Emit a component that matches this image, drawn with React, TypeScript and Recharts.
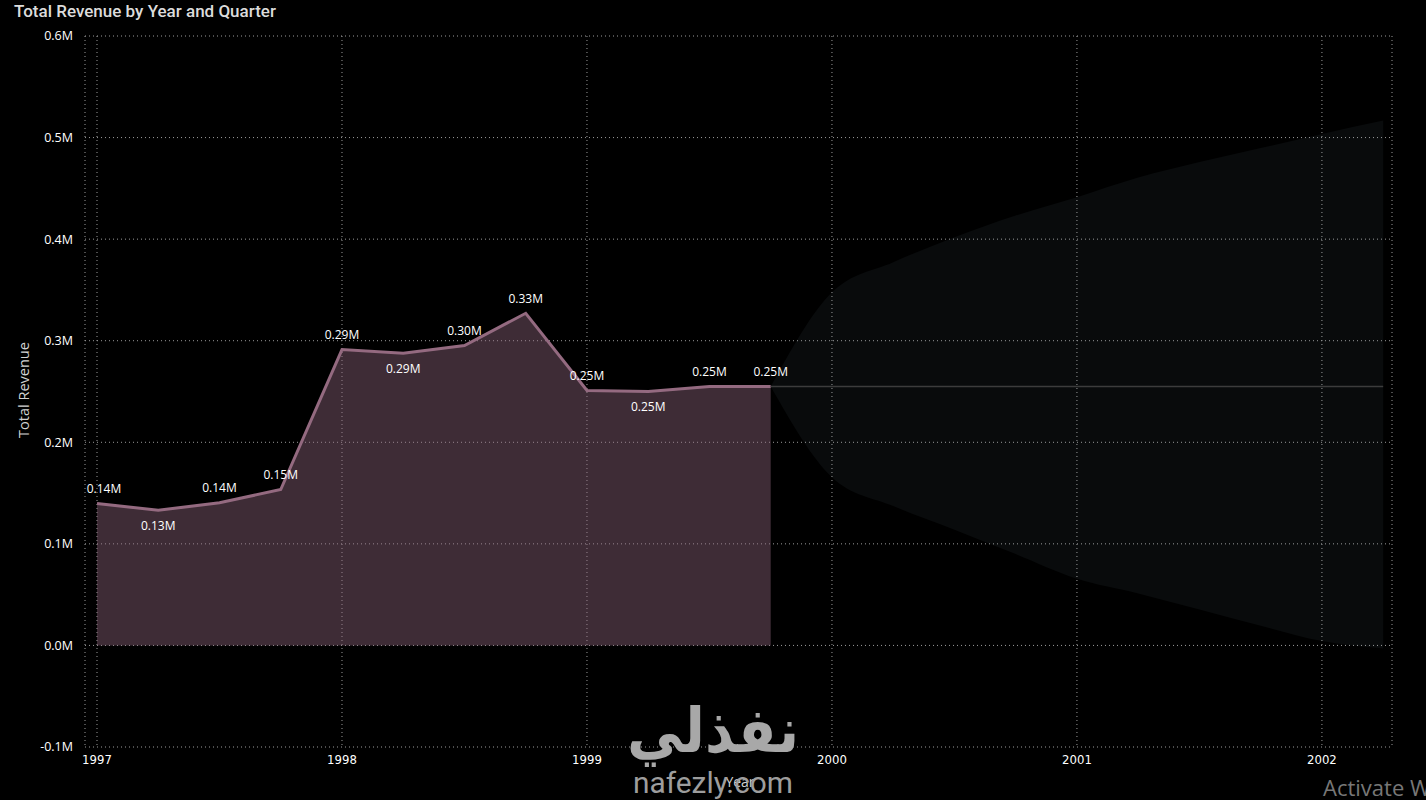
import {
  ComposedChart,
  Area,
  Line,
  XAxis,
  YAxis,
  CartesianGrid,
  LabelList
} from 'recharts'

// actual revenue, one point per quarter (x = year + quarter offset)
const actualPeriods = [1997, 1997.25, 1997.5, 1997.75, 1998, 1998.25, 1998.5, 1998.75, 1999, 1999.25, 1999.5, 1999.75]
const totalRevenue = [139800, 133000, 140500, 153500, 291300, 287700, 295300, 327000, 251000, 250000, 254900, 254900]

// forecast cone from the last actual quarter
const forecastPeriods = [1999.75, 2000, 2000.25, 2000.5, 2000.75, 2001, 2001.25, 2001.5, 2001.75, 2002, 2002.25]
const forecastValue = [254900, 254900, 254900, 254900, 254900, 254900, 254900, 254900, 254900, 254900, 254900]
const forecastUpper = [254900, 347700, 377300, 401900, 423200, 441300, 460600, 475900, 489700, 503600, 516700]
const forecastLower = [254900, 165700, 137300, 113900, 89900, 65600, 51200, 35400, 19400, 4300, -3000]

const yearTicks = [1997, 1998, 1999, 2000, 2001, 2002]
const revenueTicks = [-100000, 0, 100000, 200000, 300000, 400000, 500000, 600000]

const xs = Array.from(new Set([...actualPeriods, ...forecastPeriods])).sort((a, b) => a - b)
const data = xs.map((x) => {
  const ai = actualPeriods.indexOf(x)
  const fi = forecastPeriods.indexOf(x)
  return {
    x,
    revenue: ai >= 0 ? totalRevenue[ai] : null,
    forecast: fi >= 0 ? forecastValue[fi] : null,
    band: fi >= 0 ? [forecastLower[fi], forecastUpper[fi]] : null
  }
})

// labels go under the line at local dips, like the original
const labelBelow = totalRevenue.map((v, i) => {
  const prev = i > 0 ? totalRevenue[i - 1] : Infinity
  const next = i < totalRevenue.length - 1 ? totalRevenue[i + 1] : Infinity
  return v < prev && v < next
})

const formatTick = (v: number) => `${(v / 1e6).toFixed(1)}M`
const formatLabel = (v: number) => `${(v / 1e6).toFixed(2)}M`

const PLOT_LEFT = 85

const RevenueLabel = (props: any) => {
  const { x, y, value, index } = props
  if (value == null || x == null || y == null) return null
  const below = labelBelow[index]
  const cx = Math.max(x, PLOT_LEFT + 19)
  return (
    <text
      x={cx}
      y={below ? y + 15 : y - 15}
      textAnchor="middle"
      dominantBaseline="central"
      fill="#ffffff"
      fontSize={12}
      fontFamily="'Open Sans', 'Noto Sans', sans-serif"
    >
      {formatLabel(value)}
    </text>
  )
}

export default function App() {
  return (
    <div style={{ position: 'absolute', left: 0, top: 0, width: 1426, height: 800, background: '#000', overflow: 'hidden' }}>
      <ComposedChart
        width={1426}
        height={800}
        data={data}
        margin={{ top: 36, right: 34, bottom: 0, left: 0 }}
      >
        <CartesianGrid stroke="#9a9a9a" strokeDasharray="1 3" vertical horizontal />
        <XAxis
          dataKey="x"
          type="number"
          domain={[1996.951, 2002.286]}
          ticks={yearTicks}
          allowDataOverflow
          height={53}
          axisLine={false}
          tickLine={false}
          tickFormatter={(v) => String(v)}
          tick={{ fill: '#ffffff', fontSize: 13, fontFamily: "'Liberation Sans Narrow', 'DejaVu Sans Condensed', Roboto, sans-serif" }}
        />
        <YAxis
          type="number"
          domain={[-100000, 600000]}
          ticks={revenueTicks}
          allowDataOverflow
          width={85}
          axisLine={false}
          tickLine={false}
          tickMargin={6}
          tickFormatter={formatTick}
          tick={{ fill: '#ffffff', fontSize: 12.5, fontFamily: "'Open Sans', 'Noto Sans', sans-serif" }}
        />
        <Area
          dataKey="band"
          type="monotone"
          stroke="none"
          fill="#8ea0b0"
          fillOpacity={0.065}
          isAnimationActive={false}
          activeDot={false}
        />
        <Line
          dataKey="forecast"
          type="linear"
          stroke="#3c3c3c"
          strokeWidth={1.5}
          dot={false}
          activeDot={false}
          isAnimationActive={false}
        />
        <Area
          dataKey="revenue"
          type="linear"
          stroke="#946a80"
          strokeWidth={3}
          fill="#946a80"
          fillOpacity={0.42}
          dot={false}
          activeDot={false}
          isAnimationActive={false}
        >
          <LabelList dataKey="revenue" content={RevenueLabel} />
        </Area>
      </ComposedChart>

      <svg
        width={1426}
        height={800}
        style={{ position: 'absolute', left: 0, top: 0, pointerEvents: 'none' }}
      >
        <text x={14} y={17} fill="#dcdcdc" fontSize={17} fontWeight={500} fontFamily="Roboto, sans-serif">
          Total Revenue by Year and Quarter
        </text>
        <text
          x={23}
          y={390}
          transform="rotate(-90 23 390)"
          textAnchor="middle"
          dominantBaseline="central"
          fill="#d2d2d2"
          fontSize={14.5}
          fontFamily="'Open Sans', sans-serif"
        >
          Total Revenue
        </text>
        <text x={740} y={787} textAnchor="middle" fill="#d2d2d2" fontSize={14} fontFamily="'Open Sans', sans-serif">
          Year
        </text>
        <text
          x={713}
          y={752}
          textAnchor="middle"
          fill="#a8a8a8"
          fontSize={62}
          fontWeight={700}
          fontFamily="'DejaVu Sans', sans-serif"
          textLength={172}
          lengthAdjust="spacingAndGlyphs"
        >
          نفذلي
        </text>
        <text
          x={713}
          y={793}
          textAnchor="middle"
          fill="#9d9d9d"
          fontSize={30}
          fontFamily="Roboto, sans-serif"
          textLength={160}
          lengthAdjust="spacingAndGlyphs"
        >
          nafezly.com
        </text>
        <text x={1323} y={796} fill="#777777" fontSize={22} fontFamily="'Open Sans', sans-serif">
          Activate Windows
        </text>
      </svg>
    </div>
  )
}
